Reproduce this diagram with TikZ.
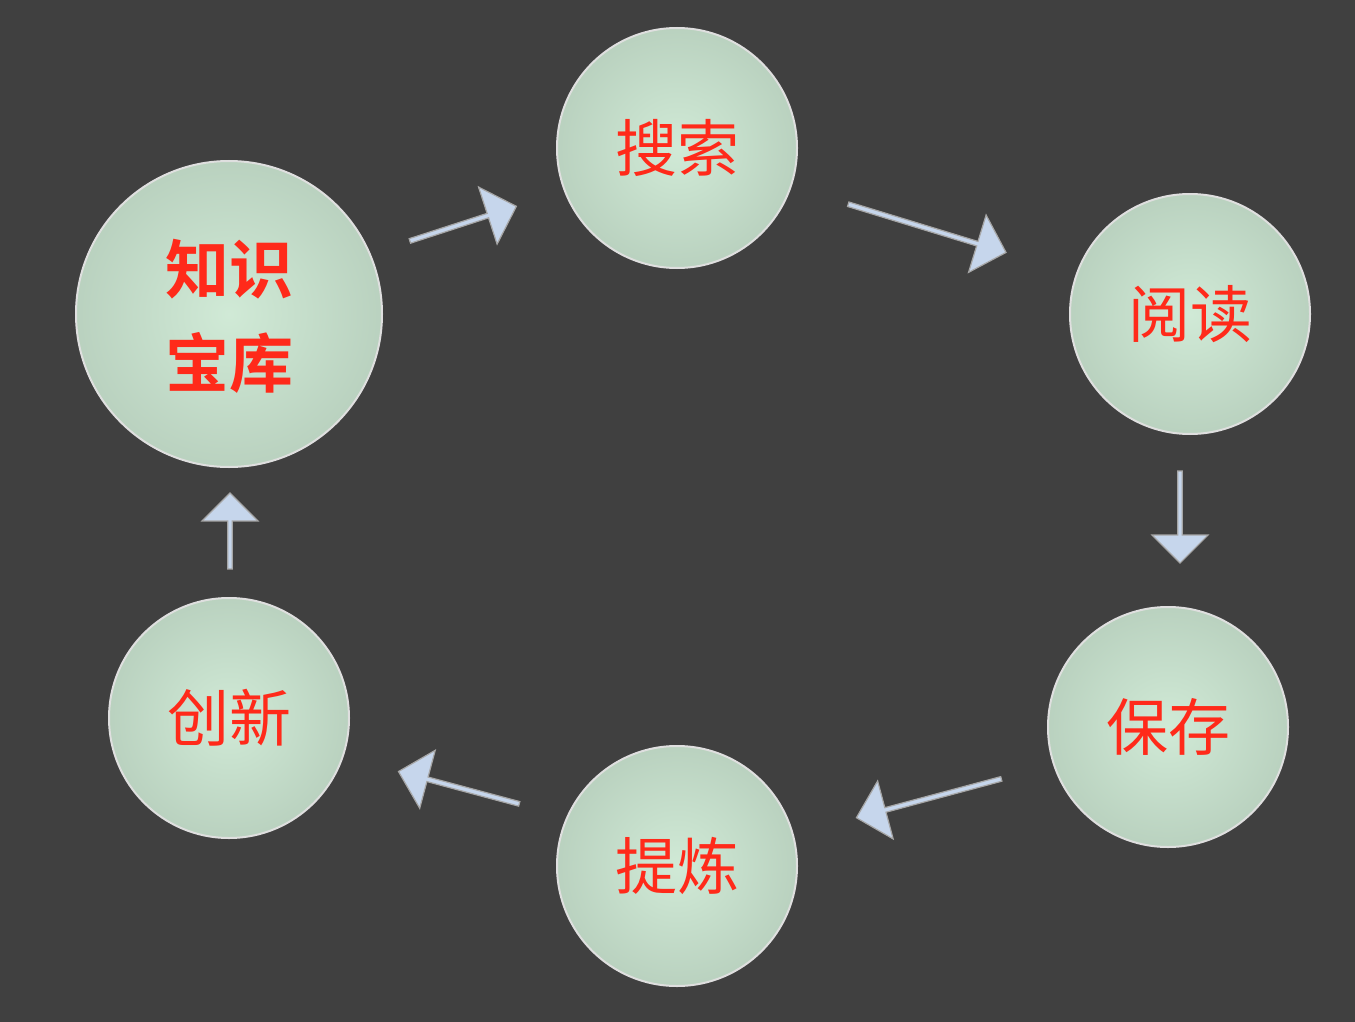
\documentclass[tikz,border=0pt]{standalone}
\usepackage{fontspec}
\newfontfamily\cjk{Noto Sans CJK SC}
\newfontfamily\cjkb[FakeBold=0]{Noto Sans CJK SC Bold}
\usetikzlibrary{shapes.arrows}
\definecolor{bg}{HTML}{404040}
\definecolor{ballc}{HTML}{C8E6CF}
\definecolor{arrc}{HTML}{C6D6EC}
\definecolor{txt}{HTML}{FF2A1A}
\tikzset{
 ball/.style={circle,draw=white!75!gray,line width=2pt,inner color=ballc!85,outer color=ballc!80!gray,text=txt,font=\cjk\fontsize{62}{70}\selectfont},
 barrow/.style={single arrow,draw=gray!70,line width=1.2pt,fill=arrc,single arrow head extend=10pt,minimum height=#1,minimum width=60pt,inner sep=0pt,shape border uses incircle}
}
\begin{document}
\begin{tikzpicture}[x=1pt,y=-1pt]
\fill[bg] (0,0) rectangle (1355,1022);
\useasboundingbox (0,0) rectangle (1355,1022);
\node[ball,minimum size=306pt] (k) at (229,314) {};
\node[text=txt,font=\cjkb\fontsize{64}{76}\selectfont,align=center] at (229,316) {知识\\[18pt]宝库};
\node[ball,minimum size=240pt] (s) at (677,148) {搜索};
\node[ball,minimum size=240pt] (y) at (1190,314) {阅读};
\node[ball,minimum size=240pt] (b) at (1168,727) {保存};
\node[ball,minimum size=240pt] (t) at (677,866) {提炼};
\node[ball,minimum size=240pt] (c) at (229,718) {创新};
\node[barrow=112pt,rotate=18] (a1) at (462,224) {};
\node[barrow=165pt,rotate=-17] (a2) at (926,228) {};
\node[barrow=92pt,rotate=-90,minimum width=56pt] (a3) at (1180,516) {};
\node[barrow=150pt,rotate=195] (a4) at (930,798) {};
\node[barrow=125pt,rotate=165] (a5) at (460,788) {};
\node[barrow=76pt,rotate=90,minimum width=56pt] (a6) at (230,532) {};
\end{tikzpicture}
\end{document}
